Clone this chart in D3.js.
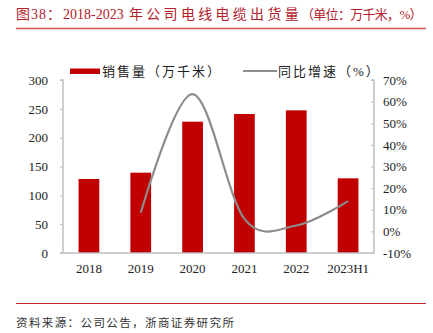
<!DOCTYPE html>
<html><head><meta charset="utf-8">
<script src="https://cdnjs.cloudflare.com/ajax/libs/d3/7.8.5/d3.min.js"></script>
<style>
body{margin:0;background:#fff;}
svg{display:block;}
</style></head>
<body>
<svg id="c" width="433" height="333"></svg>
<script>
const categories = ["2018","2019","2020","2021","2022","2023H1"];
const sales = [128.3, 139.3, 227.7, 241.0, 247.4, 129.5];
const growth = [null, 8.6, 63.5, 5.8, 2.7, 14.0];
const leftTicks = [0,50,100,150,200,250,300];
const rightTicks = [-10,0,10,20,30,40,50,60,70];

const svg = d3.select("#c");
const serif = "'Liberation Serif','Times New Roman','Noto Sans CJK SC',serif";
const cjk = "'Liberation Serif','Noto Sans CJK SC',sans-serif";

const x0 = 63, x1 = 374, yTop = 80, yBot = 253;
const x = d3.scaleBand().domain(categories).range([x0, x1]).paddingInner(0.6).paddingOuter(0.3);
const yL = d3.scaleLinear().domain([0,300]).range([yBot, yTop]);
const yR = d3.scaleLinear().domain([-10,70]).range([yBot, yTop]);

// title
const t = svg.append("text").attr("y",19).attr("fill","#b3202a")
  .style("font-family",cjk).style("font-size","14px");
t.append("tspan").attr("x",16).style("letter-spacing","1px").text("图38：");
t.append("tspan").attr("x",63).text("2018-2023");
t.append("tspan").attr("x",129).style("letter-spacing","3.3px").text("年公司电线电缆出货量");
t.append("tspan").attr("x",301).style("font-size","13px").style("letter-spacing","-0.7px").text("（单位：万千米，%）");
svg.append("line").attr("x1",16).attr("x2",426).attr("y1",28.5).attr("y2",28.5)
  .attr("stroke","#d9534f").attr("stroke-width",1.5);

// bars
svg.append("g").selectAll("rect").data(sales).join("rect")
  .attr("x",(d,i)=>x(categories[i])).attr("width",x.bandwidth())
  .attr("y",d=>yL(d)).attr("height",d=>yBot-yL(d))
  .attr("fill","#c00000");

// axes
const gl = svg.append("g").attr("transform",`translate(${x0},0)`)
  .call(d3.axisLeft(yL).tickValues(leftTicks).tickSize(3).tickPadding(12));
const gr = svg.append("g").attr("transform",`translate(${x1},0)`)
  .call(d3.axisLeft(yR).tickValues(rightTicks).tickSize(3).tickFormat(d=>d+"%"));
gr.selectAll("text").attr("x",9).attr("text-anchor","start");
const gb = svg.append("g").attr("transform",`translate(0,${yBot})`)
  .call(d3.axisBottom(x).tickSize(0).tickPadding(11));
[gl,gr,gb].forEach(g=>{
  g.select(".domain").attr("stroke","#bfbfbf").attr("stroke-width",1.5);
  g.selectAll(".tick line").attr("stroke","#bfbfbf");
  g.selectAll("text").style("font-family",serif).style("font-size","13px").attr("fill","#222");
});
gb.select(".domain").attr("d",`M${x0},0H${x1}`);
gl.select(".domain").attr("d",`M-3,${yTop}H0V${yBot}H-3`);
gr.select(".domain").attr("d",`M-3,${yTop}H0V${yBot}H-3`);

// line
const pts = growth.map((v,i)=>v==null?null:[x(categories[i])+x.bandwidth()/2, yR(v)]).filter(p=>p);
svg.append("path").attr("d", d3.line().curve(d3.curveCatmullRom.alpha(0))(pts))
  .attr("fill","none").attr("stroke","#8c8c8c").attr("stroke-width",2.2);

// legend
svg.append("rect").attr("x",70).attr("y",68.5).attr("width",30).attr("height",5.5).attr("fill","#c00000");
svg.append("text").attr("x",102).attr("y",76).style("font-family",cjk).style("font-size","13px")
  .style("letter-spacing","2px").attr("fill","#222")
  .text("销售量（万千米）");
svg.append("line").attr("x1",243).attr("x2",277).attr("y1",71).attr("y2",71).attr("stroke","#8c8c8c").attr("stroke-width",2.2);
svg.append("text").attr("x",278).attr("y",76).style("font-family",cjk).style("font-size","13px")
  .style("letter-spacing","2px").attr("fill","#222")
  .text("同比增速（%）");

// footer
svg.append("line").attr("x1",16).attr("x2",426).attr("y1",303.5).attr("y2",303.5)
  .attr("stroke","#c0282d").attr("stroke-width",1.2);
svg.append("text").attr("x",16).attr("y",327).style("font-family",cjk).style("font-size","11.5px")
  .style("letter-spacing","1.4px").attr("fill","#333")
  .text("资料来源：公司公告，浙商证券研究所");
</script>
</body></html>
